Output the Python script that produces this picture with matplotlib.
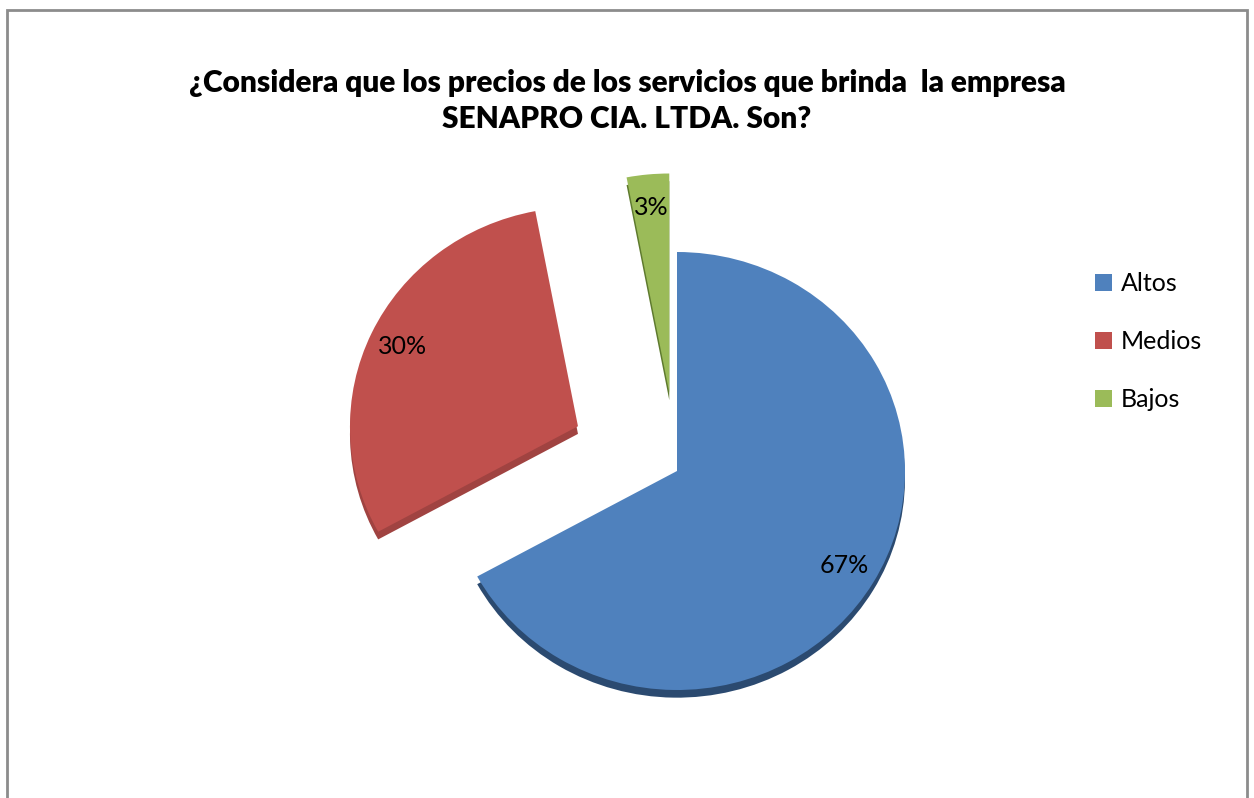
import matplotlib.pyplot as plt
from matplotlib.patches import Rectangle

# data
labels = ['Altos', 'Medios', 'Bajos']
values = [67, 30, 3]
colors = ['#4F81BD', '#C0504D', '#9BBB59']
dark = ['#2B4A70', '#A04341', '#5E7A2E']
explode = [0, 0.48, 0.36]
title = '¿Considera que los precios de los servicios que brinda  la empresa\nSENAPRO CIA. LTDA. Son?'

plt.rcParams['font.family'] = ['Lato', 'DejaVu Sans']

fig = plt.figure(figsize=(12.54, 7.98), dpi=100)
ax = fig.add_axes([0, 0, 1, 1])

# pie centre at (677, 471) px, radius 228 px wide, 219 px high
W, H = 1254, 798
cx, cy, rx, ry = 677, 471, 228, 219

# depth / shadow layer
ax.pie(values, explode=explode, colors=dark, startangle=90, counterclock=False,
       center=(0, -0.035), wedgeprops=dict(linewidth=0))
# top face
wedges, texts, autotexts = ax.pie(values, explode=explode, colors=colors,
                                  startangle=90, counterclock=False,
                                  autopct='%1.0f%%', pctdistance=0.85,
                                  wedgeprops=dict(linewidth=0),
                                  textprops=dict(fontsize=18, color='black'))

ax.set_aspect('auto')
ax.set_xlim(-cx / rx, (W - cx) / rx)
ax.set_ylim((cy - H) / ry, cy / ry)
ax.axis('off')

fig.text(0.5, 1 - 101 / H, title, ha='center', va='center', fontsize=21.5,
         fontweight='heavy', linespacing=1.35)

fig.legend(wedges, labels, loc='upper left', bbox_to_anchor=(1072 / W, 1 - 250 / H),
           frameon=False, fontsize=18, handlelength=0.7, handleheight=0.7,
           handletextpad=0.35, labelspacing=1.4)

# chart border
fig.patches.append(Rectangle((6.5 / W, -0.05), (1247 - 6.5) / W, 1.05 - 10.5 / H,
                             transform=fig.transFigure, fill=False,
                             edgecolor='#8C8C8C', linewidth=2))

plt.savefig('out.png', dpi=100)
